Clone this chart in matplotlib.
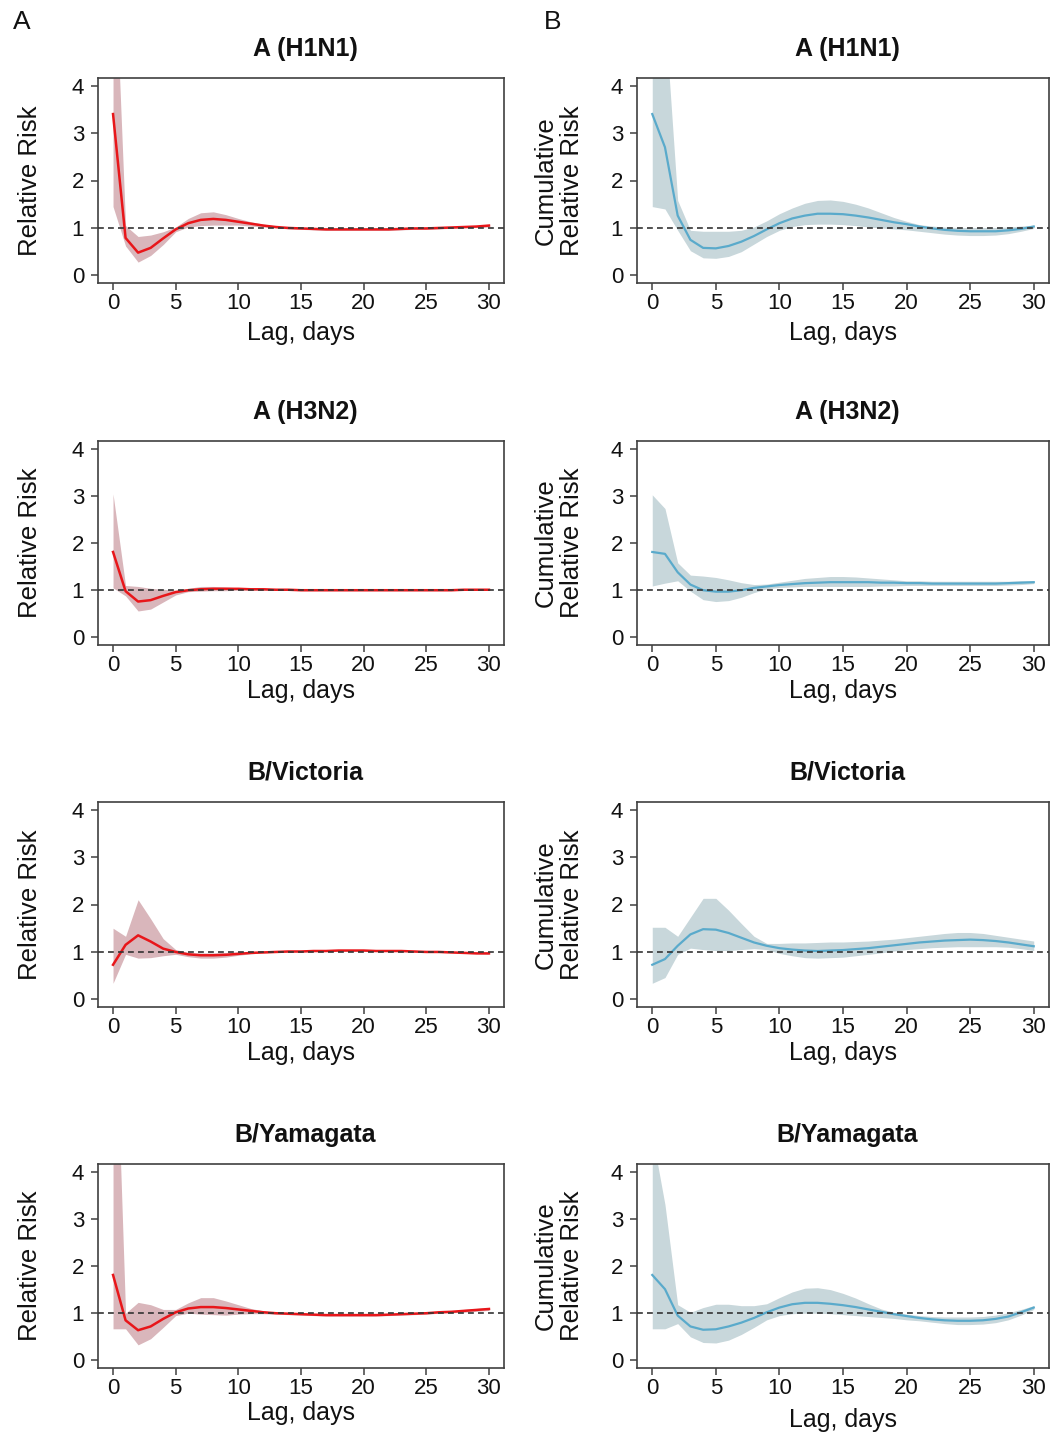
import matplotlib
matplotlib.use("Agg")
import matplotlib.pyplot as plt
import numpy as np

plt.rcParams['font.family'] = ['Liberation Sans', 'DejaVu Sans']

lag = list(range(31))

titles = ["A (H1N1)", "A (H3N2)", "B/Victoria", "B/Yamagata"]

# ---- Panel A: lag-specific relative risk ----
rr_h1 = [3.40, 0.79, 0.48, 0.58, 0.78, 0.97, 1.10, 1.17, 1.19, 1.17, 1.13, 1.09, 1.05, 1.02, 1.00, 0.99,
         0.98, 0.97, 0.97, 0.97, 0.97, 0.97, 0.97, 0.98, 0.99, 0.99, 1.00, 1.01, 1.02, 1.03, 1.05]
rr_h1_lo = [1.45, 0.62, 0.28, 0.42, 0.65, 0.92, 1.02, 1.05, 1.06, 1.06, 1.06, 1.04, 1.02, 1.00, 0.98, 0.97,
            0.96, 0.95, 0.95, 0.95, 0.95, 0.95, 0.95, 0.96, 0.97, 0.97, 0.98, 0.99, 1.00, 1.01, 1.02]
rr_h1_hi = [7.60, 1.05, 0.82, 0.85, 0.92, 1.02, 1.20, 1.32, 1.34, 1.28, 1.20, 1.13, 1.08, 1.04, 1.02, 1.01,
            1.00, 0.99, 0.99, 0.99, 0.99, 0.99, 0.99, 1.00, 1.01, 1.01, 1.02, 1.03, 1.04, 1.05, 1.08]

rr_h3 = [1.81, 0.98, 0.76, 0.79, 0.88, 0.96, 1.00, 1.02, 1.03, 1.03, 1.03, 1.02, 1.02, 1.01, 1.01, 1.00,
         1.00, 1.00, 1.00, 1.00, 1.00, 1.00, 1.00, 1.00, 1.00, 1.00, 1.00, 1.00, 1.01, 1.01, 1.01]
rr_h3_lo = [1.05, 0.88, 0.56, 0.60, 0.75, 0.90, 0.97, 0.98, 0.99, 0.99, 1.00, 1.00, 1.00, 1.00, 1.00, 0.99,
            0.99, 0.99, 0.99, 0.99, 0.99, 0.99, 0.99, 0.99, 0.99, 0.99, 0.99, 0.99, 1.00, 1.00, 1.00]
rr_h3_hi = [3.04, 1.10, 1.08, 1.04, 1.02, 1.00, 1.04, 1.08, 1.08, 1.07, 1.05, 1.04, 1.03, 1.02, 1.02, 1.01,
            1.01, 1.01, 1.01, 1.01, 1.01, 1.01, 1.01, 1.01, 1.01, 1.01, 1.01, 1.01, 1.02, 1.02, 1.02]

rr_bv = [0.73, 1.15, 1.35, 1.22, 1.07, 1.00, 0.95, 0.93, 0.93, 0.94, 0.96, 0.98, 0.99, 1.00, 1.01, 1.01,
         1.02, 1.02, 1.03, 1.03, 1.03, 1.02, 1.02, 1.02, 1.01, 1.00, 1.00, 0.99, 0.98, 0.97, 0.97]
rr_bv_lo = [0.34, 0.95, 0.87, 0.88, 0.92, 0.95, 0.90, 0.87, 0.87, 0.89, 0.93, 0.96, 0.98, 0.99, 1.00, 1.00,
            1.01, 1.01, 1.02, 1.02, 1.02, 1.01, 1.01, 1.01, 1.00, 0.99, 0.99, 0.98, 0.97, 0.96, 0.95]
rr_bv_hi = [1.50, 1.33, 2.10, 1.70, 1.28, 1.05, 0.99, 0.98, 0.98, 0.99, 1.00, 1.00, 1.01, 1.01, 1.02, 1.02,
            1.03, 1.03, 1.04, 1.04, 1.04, 1.03, 1.03, 1.03, 1.02, 1.01, 1.01, 1.00, 0.99, 0.98, 0.99]

rr_by = [1.81, 0.85, 0.64, 0.72, 0.88, 1.02, 1.10, 1.13, 1.13, 1.11, 1.08, 1.05, 1.02, 1.00, 0.99, 0.98,
         0.97, 0.96, 0.96, 0.96, 0.96, 0.96, 0.97, 0.98, 0.99, 1.00, 1.02, 1.03, 1.05, 1.07, 1.09]
rr_by_lo = [0.67, 0.67, 0.33, 0.46, 0.70, 0.95, 1.00, 0.98, 0.97, 0.96, 0.98, 0.99, 0.99, 0.98, 0.97, 0.96,
            0.95, 0.94, 0.94, 0.94, 0.94, 0.94, 0.95, 0.96, 0.97, 0.98, 1.00, 1.01, 1.02, 1.04, 1.06]
rr_by_hi = [9.00, 1.00, 1.23, 1.18, 1.08, 1.08, 1.22, 1.33, 1.33, 1.26, 1.18, 1.10, 1.05, 1.02, 1.01, 1.00,
            0.99, 0.98, 0.98, 0.98, 0.98, 0.98, 0.99, 1.00, 1.01, 1.02, 1.04, 1.05, 1.08, 1.10, 1.12]

# ---- Panel B: cumulative relative risk ----
cr_h1 = [3.40, 2.70, 1.26, 0.75, 0.58, 0.57, 0.62, 0.71, 0.83, 0.97, 1.10, 1.20, 1.26, 1.30, 1.30, 1.29,
         1.26, 1.22, 1.17, 1.12, 1.08, 1.03, 0.99, 0.96, 0.94, 0.93, 0.93, 0.93, 0.95, 0.98, 1.03]
cr_h1_lo = [1.45, 1.40, 0.95, 0.52, 0.37, 0.36, 0.40, 0.50, 0.66, 0.82, 0.95, 1.03, 1.07, 1.08, 1.08, 1.07,
            1.05, 1.02, 1.00, 0.98, 0.96, 0.93, 0.90, 0.87, 0.85, 0.84, 0.84, 0.85, 0.88, 0.93, 0.99]
cr_h1_hi = [7.00, 5.49, 1.58, 0.95, 0.93, 0.93, 0.93, 0.95, 1.02, 1.15, 1.30, 1.42, 1.52, 1.58, 1.59, 1.56,
            1.50, 1.42, 1.32, 1.22, 1.14, 1.07, 1.04, 1.02, 1.01, 1.01, 1.01, 1.01, 1.02, 1.04, 1.06]

cr_h3 = [1.81, 1.77, 1.38, 1.12, 1.00, 0.97, 0.97, 1.00, 1.05, 1.08, 1.11, 1.13, 1.15, 1.16, 1.17, 1.17,
         1.17, 1.17, 1.16, 1.16, 1.15, 1.15, 1.14, 1.14, 1.14, 1.14, 1.14, 1.14, 1.15, 1.16, 1.17]
cr_h3_lo = [1.09, 1.15, 1.20, 0.98, 0.80, 0.76, 0.78, 0.85, 0.95, 1.03, 1.06, 1.07, 1.08, 1.08, 1.08, 1.08,
            1.08, 1.08, 1.09, 1.09, 1.10, 1.10, 1.10, 1.10, 1.10, 1.10, 1.10, 1.10, 1.11, 1.12, 1.14]
cr_h3_hi = [3.02, 2.73, 1.58, 1.32, 1.30, 1.27, 1.22, 1.16, 1.12, 1.13, 1.17, 1.21, 1.25, 1.27, 1.29, 1.29,
            1.28, 1.26, 1.24, 1.22, 1.20, 1.20, 1.19, 1.19, 1.19, 1.19, 1.19, 1.19, 1.19, 1.20, 1.20]

cr_bv = [0.73, 0.85, 1.13, 1.37, 1.48, 1.47, 1.40, 1.30, 1.20, 1.13, 1.08, 1.05, 1.03, 1.02, 1.03, 1.04,
         1.06, 1.08, 1.11, 1.14, 1.17, 1.20, 1.22, 1.24, 1.25, 1.26, 1.25, 1.23, 1.20, 1.16, 1.12]
cr_bv_lo = [0.34, 0.46, 0.95, 1.08, 1.05, 1.03, 1.03, 1.05, 1.07, 1.05, 0.97, 0.92, 0.88, 0.87, 0.88, 0.89,
            0.92, 0.95, 0.98, 1.02, 1.05, 1.07, 1.09, 1.10, 1.11, 1.11, 1.11, 1.11, 1.10, 1.07, 1.03]
cr_bv_hi = [1.52, 1.52, 1.33, 1.73, 2.13, 2.13, 1.88, 1.60, 1.33, 1.18, 1.18, 1.19, 1.19, 1.20, 1.21, 1.21,
            1.22, 1.23, 1.25, 1.27, 1.30, 1.33, 1.36, 1.39, 1.41, 1.41, 1.39, 1.35, 1.31, 1.27, 1.23]

cr_by = [1.81, 1.51, 0.95, 0.72, 0.65, 0.66, 0.72, 0.80, 0.90, 1.02, 1.12, 1.19, 1.22, 1.22, 1.20, 1.17,
         1.13, 1.08, 1.03, 0.98, 0.94, 0.90, 0.87, 0.85, 0.84, 0.84, 0.85, 0.88, 0.93, 1.02, 1.12]
cr_by_lo = [0.67, 0.67, 0.78, 0.50, 0.38, 0.37, 0.43, 0.55, 0.70, 0.86, 0.95, 0.99, 1.00, 1.00, 0.99, 0.97,
            0.95, 0.93, 0.91, 0.89, 0.86, 0.84, 0.81, 0.78, 0.76, 0.76, 0.77, 0.80, 0.86, 0.96, 1.08]
cr_by_hi = [4.78, 3.30, 1.18, 1.02, 1.12, 1.19, 1.19, 1.16, 1.16, 1.20, 1.33, 1.45, 1.53, 1.54, 1.50, 1.42,
            1.32, 1.20, 1.09, 1.02, 0.98, 0.95, 0.93, 0.92, 0.92, 0.92, 0.93, 0.96, 1.01, 1.08, 1.16]

col_a = [(rr_h1, rr_h1_lo, rr_h1_hi), (rr_h3, rr_h3_lo, rr_h3_hi),
         (rr_bv, rr_bv_lo, rr_bv_hi), (rr_by, rr_by_lo, rr_by_hi)]
col_b = [(cr_h1, cr_h1_lo, cr_h1_hi), (cr_h3, cr_h3_lo, cr_h3_hi),
         (cr_bv, cr_bv_lo, cr_bv_hi), (cr_by, cr_by_lo, cr_by_hi)]

xticks = [0, 5, 10, 15, 20, 25, 30]
yticks = [0, 1, 2, 3, 4]

W, H = 1051, 1432
fig = plt.figure(figsize=(W / 100, H / 100), dpi=100)

# axes boxes in pixels: (left, right) per column, (top, bottom) per row
cols_px = [(98, 504), (637, 1049)]
rows_px = [(78, 283), (441, 645), (802, 1007), (1164, 1368)]
xlab_off = [[50, 50], [46, 46], [46, 46], [45, 52]]

line_cols = ["#e8161a", "#5aaacb"]
band_cols = ["#d9b6bb", "#c8d7db"]
ylabels = ["Relative Risk", "Cumulative\nRelative Risk"]
ylab_x = [30, 559]

for ci, coldata in enumerate([col_a, col_b]):
    l, r = cols_px[ci]
    for ri, (est, lo, hi) in enumerate(coldata):
        t, b = rows_px[ri]
        ax = fig.add_axes([l / W, 1 - b / H, (r - l) / W, (b - t) / H])
        ax.fill_between(lag, lo, hi, color=band_cols[ci], linewidth=0, zorder=1)
        ax.plot(lag, est, color=line_cols[ci], lw=1.8 if ci == 0 else 1.6, zorder=3)
        ax.axhline(1, color="#333333", lw=1.2, ls=(0, (3.5, 2.5)), zorder=4)
        ax.set_xlim(-1.2, 31.2)
        ax.set_ylim(-0.16, 4.16)
        ax.set_xticks(xticks)
        ax.set_yticks(yticks)
        ax.tick_params(axis='both', direction='out', length=5, width=1.1,
                       color="#404040", labelsize=16, labelcolor="#111111")
        ax.tick_params(axis='y', pad=5)
        ax.tick_params(axis='x', pad=2)
        for s in ax.spines.values():
            s.set_color("#404040")
            s.set_linewidth(1.2)
        hpx = b - t
        wpx = r - l
        ax.set_xlabel("Lag, days", fontsize=18, va='center', color="#111111")
        ax.xaxis.set_label_coords(0.5, -xlab_off[ri][ci] / hpx)
        ax.set_ylabel(ylabels[ci], fontsize=18.5, va='center', color="#111111",
                      linespacing=1.15)
        ax.yaxis.set_label_coords((ylab_x[ci] - l) / wpx, 0.5)
        ax.text(0.5 + 4 / wpx, 1 + 29 / hpx, titles[ri], transform=ax.transAxes,
                ha='center', va='center', fontsize=18, fontweight='bold', color="#111111")

fig.text(22 / W, 1 - 22 / H, "A", fontsize=19, ha='center', va='center', color="#111111")
fig.text(553 / W, 1 - 22 / H, "B", fontsize=19, ha='center', va='center', color="#111111")

fig.savefig("out.png", dpi=100)
